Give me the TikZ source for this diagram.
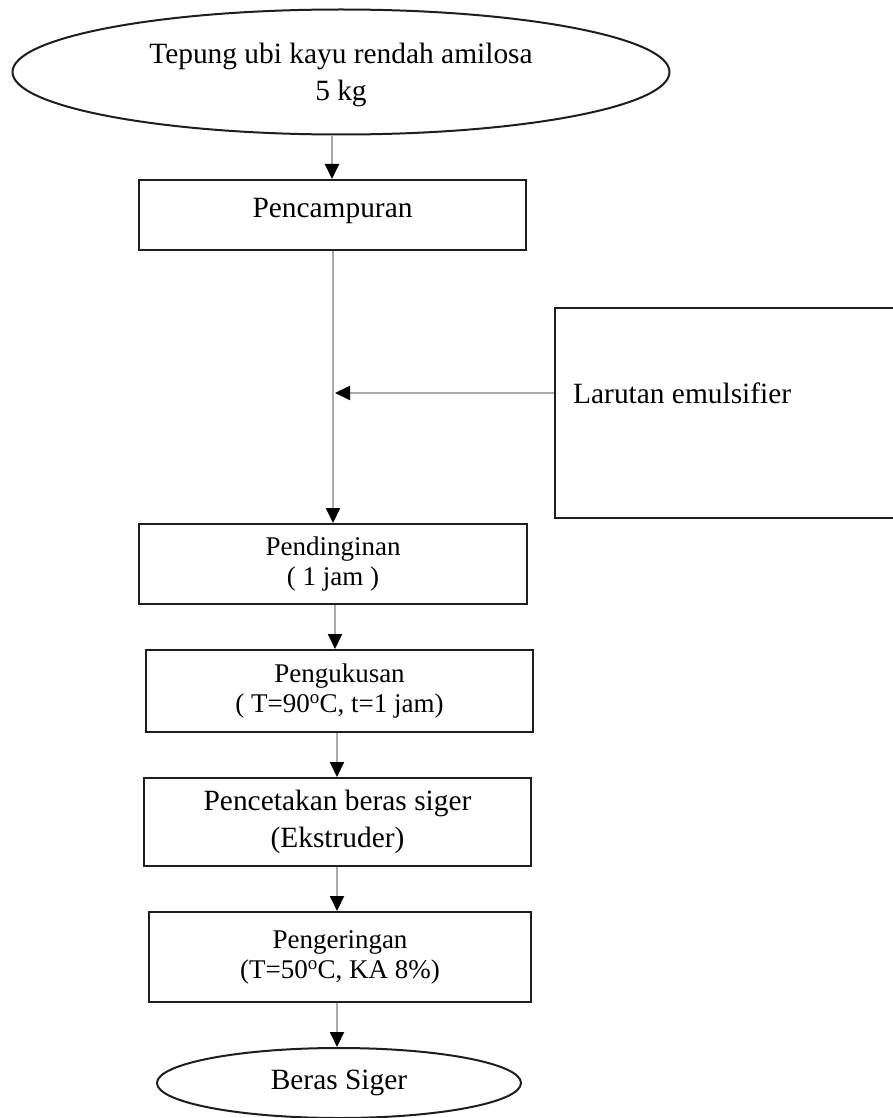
\documentclass[tikz,border=0pt]{standalone}
\usepackage{fontspec}
\setmainfont{Liberation Serif}
\usetikzlibrary{arrows.meta,shapes.geometric}
\definecolor{linegray}{RGB}{170,170,170}
\definecolor{boxline}{RGB}{30,30,30}
\tikzset{
  bigfont/.style={font=\fontsize{29.4}{37}\selectfont},
  smallfont/.style={font=\fontsize{27}{30}\selectfont},
  procbox/.style={draw=boxline, line width=2pt, rectangle, inner sep=0pt, align=center},
  oval/.style={draw=boxline, line width=2pt, ellipse, inner sep=0pt, align=center},
  flow/.style={draw=linegray, line width=2pt, -{Triangle[length=15pt,width=14pt,color=black]}}
}
\begin{document}
\begin{tikzpicture}[x=1pt,y=-1pt]
\useasboundingbox (0,0) rectangle (893,1118);
% nodes
\node[oval, minimum width=657pt, minimum height=125pt] (start) at (341,72) {};
\node[bigfont, inner sep=0pt, align=center] (startt) at (341,75)
  {Tepung ubi kayu rendah amilosa\\5 kg};
\node[procbox, minimum width=387pt, minimum height=70pt] (mix) at (332.5,215) {};
\node[bigfont, inner sep=0pt] (mixt) at (332.5,211) {Pencampuran};
\node[procbox, minimum width=360pt, minimum height=210pt, anchor=north west] (lar) at (554,307) {};
\node[bigfont, inner sep=0pt, anchor=west] (emul) at (573,393) {Larutan emulsifier};
\node[procbox, smallfont, minimum width=388pt, minimum height=80pt] (cool) at (333,564)
  {Pendinginan\\( 1 jam )};
\node[procbox, smallfont, minimum width=387pt, minimum height=82pt] (steam) at (339.5,691)
  {Pengukusan\\( T=90\textsuperscript{o}C, t=1 jam)};
\node[procbox, bigfont, minimum width=387pt, minimum height=88pt] (mold) at (337.5,822)
  {Pencetakan beras siger\\(Ekstruder)};
\node[procbox, smallfont, minimum width=382pt, minimum height=90pt] (dry) at (340,957)
  {Pengeringan\\(T=50\textsuperscript{o}C, KA 8\%)};
\node[oval, bigfont, minimum width=364pt, minimum height=70pt] (end) at (339,1083) {Beras Siger};
% guide coordinates
\coordinate (xa) at (332,0);
\coordinate (xb) at (333,0);
\coordinate (xc) at (335,0);
\coordinate (xd) at (337,0);
\coordinate (j) at (335,393);
% connectors
\draw[flow] (start.south -| xa) -- (mix.north -| xa);
\draw[flow] (mix.south -| xb) -- (cool.north -| xb);
\draw[flow] (lar.west |- emul.west) -- (j);
\draw[flow] (cool.south -| xc) -- (steam.north -| xc);
\draw[flow] (steam.south -| xd) -- (mold.north -| xd);
\draw[flow] (mold.south -| xd) -- (dry.north -| xd);
\draw[flow] (dry.south -| xd) -- (end.north -| xd);
\end{tikzpicture}
\end{document}
